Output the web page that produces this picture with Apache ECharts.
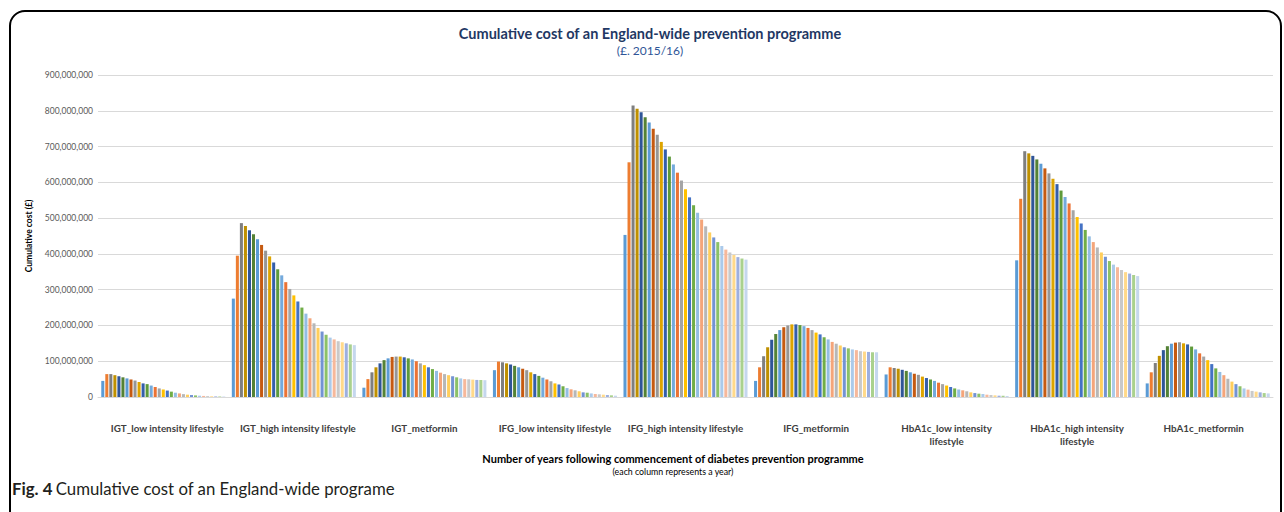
<!DOCTYPE html>
<html>
<head>
<meta charset="utf-8">
<script src="https://cdn.jsdelivr.net/npm/echarts@6/dist/echarts.min.js"></script>
<style>
html,body{margin:0;padding:0;background:#fff;}
#c{width:1284px;height:512px;}
</style>
</head>
<body>
<div id="c"></div>
<script>
// Categories (groups on the x axis)
const categories = [
  'IGT_low intensity lifestyle',
  'IGT_high intensity lifestyle',
  'IGT_metformin',
  'IFG_low intensity lifestyle',
  'IFG_high intensity lifestyle',
  'IFG_metformin',
  'HbA1c_low intensity\nlifestyle',
  'HbA1c_high intensity\nlifestyle',
  'HbA1c_metformin'
];

// Cumulative cost (£) for years 1..31, one array per category (values in millions)
const igtLow = [45,64,64,61,58,55,52,49,46,42,38,36,32,28,24,21,18,15,12,10,8,6.5,5.5,4.5,3.7,3,2.5,2,1.7,1.5,1.3];
const igtHigh = [275,395,486,478,466,455,441,425,409,393,376,357,340,321,302,284,267,250,233,220,206,193,183,174,166,161,156,153,150,147,145];
const igtMet = [26,50,69,83,94,103,108,112,113,113,111,108,105,100,94,89,83,78,73,68,64,61,58,55,52,50,49.5,48.6,47.7,47.5,47];
const ifgLow = [75,99,97,94,91,87,83,79,75,69,64,59,54,49,44,38,35,30,25,21.5,18.7,16,13,12,10,8.4,7.5,6.5,5.6,4.7,3.7];
const ifgHigh = [453,656,815,806,796,782,767,750,733,713,692,672,650,627,605,581,558,536,515,496,477,460,446,433,422,412,404,397,391,387,384];
const ifgMet = [45,83,114,139,160,176,187,195,200,203,203,201,198,193,187,180,175,167,161,154,149,144,139,136,133,131,128,127,126,125,125];
const hbaLow = [63,83,81,79,76,73,69,65,62,57,53,49,45,40,36,32,28,24,21,18.7,16,13,11,9.3,8.4,6.5,5.6,4.7,3.7,3.5,2.8];
const hbaHigh = [382,554,687,681,674,664,652,639,625,610,595,577,559,541,522,503,485,467,449,433,418,404,392,380,370,363,355,349,345,341,338];
const hbaMet = [38,69,95,115,131,142,149,152,153,150,147,141,133,122,113,103,92,80,70,61,51,43,36,30,24,20.6,17,15,13,11,10];

const groups = [igtLow, igtHigh, igtMet, ifgLow, ifgHigh, ifgMet, hbaLow, hbaHigh, hbaMet];
const years = Array.from({length: 31}, (_, i) => 'Year ' + (i + 1));

// Y axis ticks
const yTicks = [0, 100000000, 200000000, 300000000, 400000000, 500000000, 600000000, 700000000, 800000000, 900000000];

const colors = [
  '#5B9BD5','#ED7D31','#7F7F7F','#BF9000','#2F5597','#548235',
  '#5B9BD5','#C55A11','#969696','#DDA400','#345EAA','#5E9A3A',
  '#74AADC','#EB7335','#A5A5A5','#FFC000','#4472C4','#70AD47',
  '#93BDE3','#F4A57A','#B7B7B7','#FFCE5C','#7393D3','#8CC168',
  '#ABCAEA','#F6B89B','#C9C9C9','#FFD98A','#9DAFDF','#A9D18E','#C5D7EE'
];

const series = years.map((y, i) => ({
  type: 'bar',
  name: y,
  data: groups.map(g => g[i] * 1e6),
  itemStyle: { color: colors[i] },
  barGap: '33%',
  barCategoryGap: '5%'
}));

const labelFont = { fontFamily: 'Lato', fontSize: 9.8, fontWeight: 'bold', color: '#404040', lineHeight: 13 };

const chart = echarts.init(document.getElementById('c'), null, { renderer: 'svg' });
chart.setOption({
  animation: false,
  title: {
    text: 'Cumulative cost of an England-wide prevention programme',
    subtext: '(£. 2015/16)',
    left: 645,
    top: 21,
    textAlign: 'center',
    itemGap: 3,
    textStyle: { fontFamily: 'Lato', fontSize: 14.5, fontWeight: 'bold', color: '#1F3864' },
    subtextStyle: { fontFamily: 'Lato', fontSize: 12, color: '#2F5597' }
  },
  grid: { left: 98, right: 11, top: 75, bottom: 115 },
  xAxis: {
    type: 'category',
    data: categories,
    axisTick: { show: false },
    axisLine: { lineStyle: { color: '#D9D9D9', width: 1 } },
    axisLabel: Object.assign({
      interval: 0,
      margin: 24,
      formatter: (v, i) => i <= 1 ? '{r|' + v + '}' : (i === 8 ? '{l|' + v + '}' : v),
      rich: {
        r: Object.assign({ padding: [0, 0, 0, 8] }, labelFont),
        l: Object.assign({ padding: [0, 8, 0, 0] }, labelFont)
      }
    }, labelFont)
  },
  yAxis: {
    type: 'value',
    min: 0,
    max: 900000000,
    interval: 100000000,
    axisLine: { show: false },
    axisTick: { show: false },
    splitLine: { lineStyle: { color: '#D9D9D9', width: 1 } },
    axisLabel: {
      fontFamily: 'Lato',
      fontSize: 8.5,
      color: '#595959',
      margin: 5,
      formatter: v => yTicks.includes(v) ? v.toLocaleString('en-US') : ''
    },
    name: 'Cumulative cost (£)',
    nameLocation: 'middle',
    nameGap: 50,
    nameTextStyle: { fontFamily: 'Lato', fontSize: 8.5, fontWeight: 'bold', color: '#000' }
  },
  graphic: [
    {
      type: 'rect',
      shape: { x: 10, y: 11, width: 1271, height: 530, r: [15, 15, 0, 0] },
      style: { fill: 'none', stroke: '#000', lineWidth: 2 },
      silent: true
    },
    {
      type: 'text',
      x: 673, y: 451,
      style: {
        text: '{a|Number of years following commencement of diabetes prevention programme}\n{b|(each column represents a year)}',
        align: 'center',
        verticalAlign: 'top',
        rich: {
          a: { fontFamily: 'Lato', fontSize: 11, fontWeight: 'bold', fill: '#000', align: 'center', lineHeight: 14 },
          b: { fontFamily: 'Lato', fontSize: 8.8, fill: '#000', align: 'center', lineHeight: 12 }
        }
      }
    },
    {
      type: 'text',
      left: 12, top: 480,
      style: {
        text: '{b|Fig. 4} {n|Cumulative cost of an England-wide programe}',
        rich: {
          b: { fontFamily: 'Lato', fontSize: 16.8, fontWeight: 'bold', fill: '#231F20' },
          n: { fontFamily: 'Lato', fontSize: 16.8, fill: '#231F20' }
        }
      }
    }
  ],
  series: series
});
</script>
</body>
</html>
